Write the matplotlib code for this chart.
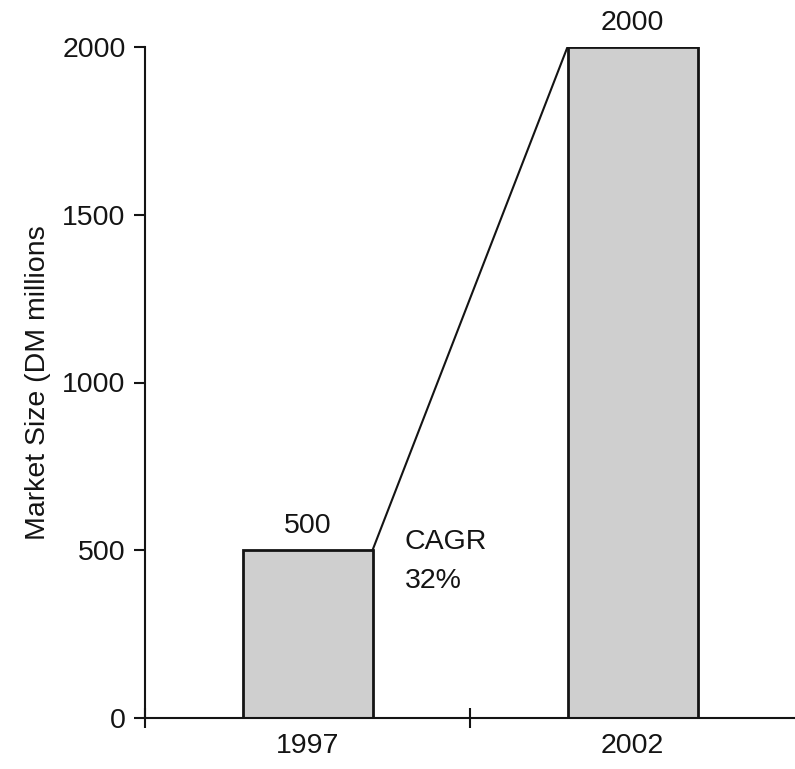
import matplotlib
matplotlib.use("Agg")
import matplotlib.pyplot as plt

plt.rcParams['font.family'] = ['Liberation Sans', 'DejaVu Sans']

years = ["1997", "2002"]
values = [500, 2000]
cagr_label = "CAGR\n32%"
ylabel = "Market Size (DM millions"
yticks = [0, 500, 1000, 1500, 2000]

FS = 20.5

fig = plt.figure(figsize=(7.95, 7.69), dpi=100)
ax = fig.add_axes([145/795, 1-718/769, 1-145/795, (718-47)/769])

x = list(range(len(years)))
bw = 0.4
ax.bar(x, values, width=bw, color="#cfcfcf", edgecolor="#141414", linewidth=2.0, zorder=2)

# growth line from top-right of first bar to top-left of second bar
ax.plot([x[0] + bw/2, x[1] - bw/2], [values[0], values[1]], color="#141414", lw=1.5, zorder=3)

for xi, v in zip(x, values):
    ax.annotate(str(v), (xi, v), xytext=(0, 8), textcoords="offset points",
                ha="center", va="bottom", fontsize=FS, color="#141414")

ax.annotate(cagr_label, (x[0] + bw/2, values[0]), xytext=(23, 15), textcoords="offset points",
            ha="left", va="top", fontsize=FS, color="#141414", linespacing=1.65)

ax.set_xlim(-0.5, 1.5)
ax.set_ylim(0, 2000)
ax.set_yticks(yticks)
ax.set_yticklabels([str(t) for t in yticks], fontsize=FS, color="#141414")
ax.tick_params(axis='y', direction='out', length=8, width=1.5, pad=6, colors="#141414")

ax.set_xticks([-0.5, 0.5])
ax.set_xticklabels(["", ""])
ax.tick_params(axis='x', which='major', direction='inout', length=14, width=1.5, colors="#141414")
ax.set_xticks(x, minor=True)
ax.set_xticklabels(years, minor=True, fontsize=FS, color="#141414")
ax.tick_params(axis='x', which='minor', length=0, pad=11)

for s in ["top", "right"]:
    ax.spines[s].set_visible(False)
for s in ["left", "bottom"]:
    ax.spines[s].set_linewidth(1.5)
    ax.spines[s].set_color("#141414")

ax.set_ylabel(ylabel, fontsize=FS, color="#141414", labelpad=8)

fig.savefig("out.png", dpi=100)
